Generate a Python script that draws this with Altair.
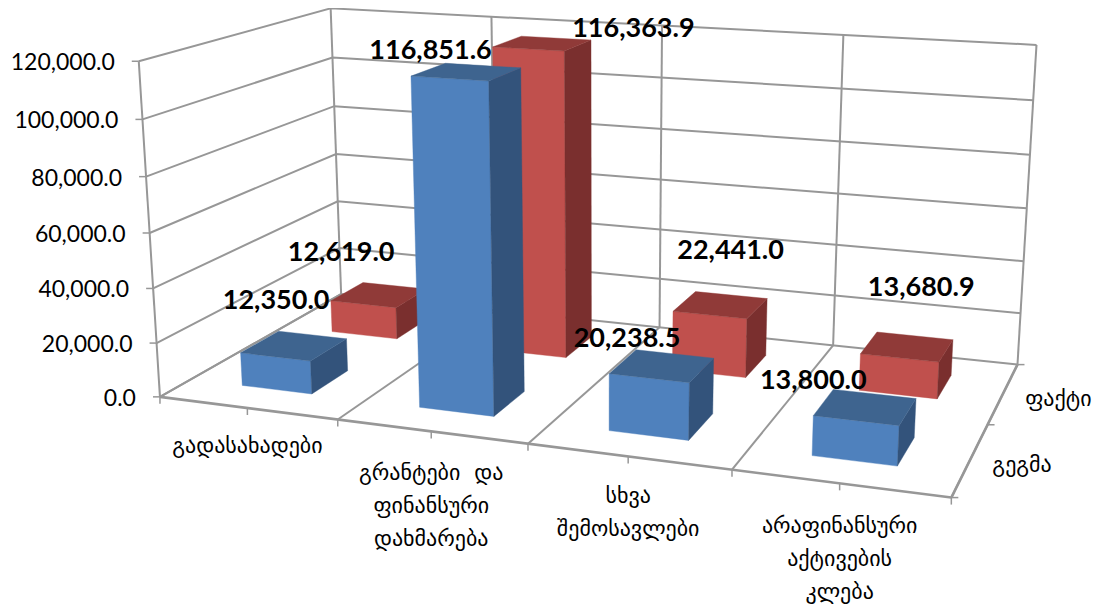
import numpy as np
import pandas as pd
import altair as alt

categories = [["გადასახადები"], ["გრანტები \u00a0და", "ფინანსური", "დახმარება"], ["სხვა", "შემოსავლები"], ["არაფინანსური", "აქტივების", "კლება"]]
plan = [12350.0, 116851.6, 20238.5, 13800.0]
actual = [12619.0, 116363.9, 22441.0, 13680.9]
series = ["გეგმა", "ფაქტი"]
value_ticks = [0, 20000, 40000, 60000, 80000, 100000, 120000]

# camera calibration: box corners (category, depth, value-step) seen in the picture
calib = [
 (0,0,0,160,397),(1,0,0,338,421),(2,0,0,530,440),(3,0,0,732,471),(4,0,0,951,498),
 (0,0,1,155,343),(0,0,2,152,288),(0,0,3,149,232),(0,0,4,146,177),(0,0,5,143,120),(0,0,6,140,62),
 (0,2,0,343,295),(2,2,0,658,327),(3,2,0,833,345),(4,2,0,1018,365),
 (0,2,6,330,7),(2,2,6,662,27),(3,2,6,843,35),(4,2,6,1037,44),(4,1,0,987,425),
]
A, b = [], []
for u, v, w, x, y in calib:
    A.append([u, v, w, 1, 0, 0, 0, 0, -x*u, -x*v, -x*w]); b.append(x)
    A.append([0, 0, 0, 0, u, v, w, 1, -y*u, -y*v, -y*w]); b.append(y)
m = np.linalg.lstsq(np.array(A, float), np.array(b, float), rcond=None)[0]
M = np.append(m, 1.0).reshape(3, 4)

def P(u, v, val):
    p = M @ np.array([u, v, val / 20000.0, 1.0])
    return [float(p[0] / p[2]) - 8, float(p[1] / p[2]) - 8]

def poly(pts, c):
    return {"type": "Feature", "properties": {"c": c},
            "geometry": {"type": "Polygon", "coordinates": [pts + [pts[0]]]}}

def seg(*pts):
    return {"type": "Feature", "properties": {},
            "geometry": {"type": "LineString", "coordinates": [list(p) for p in pts]}}

TOP_V = 120000
grid = []
for t in value_ticks:
    grid.append(seg(P(0, 0, t), P(0, 2, t), P(4, 2, t)))
for u in range(5):
    grid.append(seg(P(u, 2, 0), P(u, 2, TOP_V)))
    grid.append(seg(P(u, 0, 0), P(u, 2, 0)))
grid.append(seg(P(0, 0, 0), P(0, 0, TOP_V)))
ticks = []
for t in value_ticks:
    a = P(0, 0, t); ticks.append(seg(a, [a[0] - 7, a[1]]))
for u in np.arange(0, 4.01, 0.5):
    a = P(float(u), 0, 0); ticks.append(seg(a, [a[0], a[1] + 7]))
for v in range(3):
    a = P(4, v, 0); ticks.append(seg(a, [a[0] + 7, a[1]]))
front_axis = [seg(P(0, 0, 0), P(4, 0, 0)), seg(P(4, 0, 0), P(4, 2, 0))]

GAP = 0.3
def bar(i, s, val, cols):
    u0, u1, v0, v1 = i + GAP, i + 1 - GAP, s + GAP, s + 1 - GAP
    front = [P(u0, v0, 0), P(u1, v0, 0), P(u1, v0, val), P(u0, v0, val)]
    side = [P(u1, v0, 0), P(u1, v1, 0), P(u1, v1, val), P(u1, v0, val)]
    top = [P(u0, v0, val), P(u1, v0, val), P(u1, v1, val), P(u0, v1, val)]
    return [poly(front, cols[0]), poly(side, cols[1]), poly(top, cols[2])]

blue = ["#4f81bd", "#33537b", "#3e648f"]
red = ["#c0504d", "#7a2f2e", "#903a38"]
faces = []
for i, val in enumerate(actual):
    faces += bar(i, 1, val, red)
for i, val in enumerate(plan):
    faces += bar(i, 0, val, blue)

def lines(feats, width):
    return alt.Chart(alt.Data(values=feats)).mark_geoshape(filled=False, stroke="#979797", strokeWidth=width)

grid_layer = lines(grid, 2)
tick_layer = lines(ticks, 1.5)
axis_layer = lines(front_axis, 2.6)
face_layer = alt.Chart(alt.Data(values=faces)).mark_geoshape(strokeWidth=0.4).encode(
    fill=alt.Fill("properties.c:N", scale=None),
    stroke=alt.Stroke("properties.c:N", scale=None),
)

# value labels: anchored on each bar top, moved by hand as in the original
label_nudge = {(0, 0): (-18, -45), (1, 0): (-36, -21), (2, 0): (-35, -27), (3, 0): (-52, -26),
               (0, 1): (-38, -42), (1, 1): (91, -14), (2, 1): (10, -54), (3, 1): (14, -59)}
rows = []
for s, vals in enumerate([plan, actual]):
    for i, val in enumerate(vals):
        a = P(i + 0.5, s + 0.5, val)
        n = label_nudge[(i, s)]
        rows.append({"lon": a[0] + n[0], "lat": a[1] + n[1], "t": f"{val:,.1f}"})
value_text = alt.Chart(pd.DataFrame(rows)).mark_text(
    font="Lato", fontWeight="bold", fontSize=27, color="#000000", align="center", baseline="middle"
).encode(longitude="lon:Q", latitude="lat:Q", text="t:N")

rows = []
for t in value_ticks:
    a = P(0, 0, t)
    rows.append({"lon": a[0] - 24, "lat": a[1] + 2, "t": f"{t:,.1f}"})
y_text = alt.Chart(pd.DataFrame(rows)).mark_text(
    font="Lato", fontSize=23, color="#000000", align="right", baseline="middle"
).encode(longitude="lon:Q", latitude="lat:Q", text="t:N")

rows = []
cat_drop = [38, 42, 40, 43]
for i, ls in enumerate(categories):
    a = P(i + 0.5, 0, 0)
    for k, line in enumerate(ls):
        rows.append({"lon": a[0], "lat": a[1] + cat_drop[i] + k * 33, "t": line})
cat_text = alt.Chart(pd.DataFrame(rows)).mark_text(
    font="DejaVu Sans", fontSize=22, color="#000000", align="center", baseline="middle"
).encode(longitude="lon:Q", latitude="lat:Q", text="t:N")

rows = []
for s, name in enumerate(series):
    a = P(4, s + 0.5, 0)
    rows.append({"lon": a[0] + 22, "lat": a[1] + 6, "t": name})
ser_text = alt.Chart(pd.DataFrame(rows)).mark_text(
    font="DejaVu Sans", fontSize=22, color="#000000", align="left", baseline="middle"
).encode(longitude="lon:Q", latitude="lat:Q", text="t:N")

chart = alt.layer(grid_layer, tick_layer, axis_layer, face_layer, y_text, cat_text, ser_text, value_text).project(
    type="identity", scale=1, translate=[0, 0]
).properties(width=1086, height=598, padding=0, background="white", autosize=alt.AutoSizeParams(type="none")
).configure_view(stroke=None)

chart.save("out.html", embed_options={"renderer": "svg", "actions": False})
